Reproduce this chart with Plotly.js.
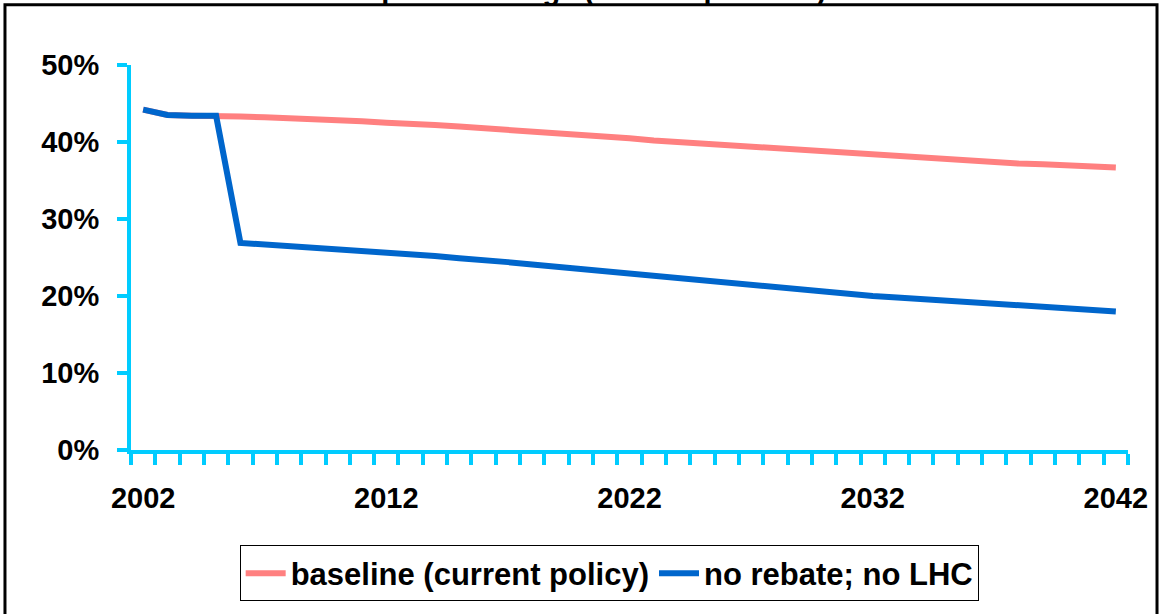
<!DOCTYPE html>
<html>
<head>
<meta charset="utf-8">
<script src="https://cdn.plot.ly/plotly-3.0.1.min.js"></script>
<style>html,body{margin:0;padding:0;background:#fff;}#chart{width:1160px;height:614px;}</style>
</head>
<body>
<div id="chart"></div>
<script>
var titleText = "Private hospital coverage (% of all persons)";
var years = [2002,2003,2004,2005,2006,2007,2008,2009,2010,2011,2012,2013,2014,2015,2016,2017,2018,2019,2020,2021,2022,2023,2024,2025,2026,2027,2028,2029,2030,2031,2032,2033,2034,2035,2036,2037,2038,2039,2040,2041,2042];
var baseline = [44.2,43.5,43.4,43.4,43.3,43.2,43.1,43.0,42.8,42.7,42.5,42.4,42.2,42.0,41.8,41.6,41.4,41.1,40.9,40.7,40.5,40.2,40.0,39.8,39.6,39.3,39.1,38.9,38.7,38.5,38.3,38.1,37.9,37.7,37.5,37.4,37.2,37.1,37.0,36.8,36.7];
var noRebate = [44.2,43.5,43.4,43.4,26.9,26.7,26.5,26.3,26.1,25.9,25.7,25.4,25.2,24.9,24.7,24.4,24.1,23.8,23.5,23.2,22.9,22.6,22.3,22.0,21.7,21.4,21.1,20.8,20.5,20.3,20.0,19.8,19.6,19.4,19.2,19.0,18.8,18.6,18.4,18.2,18.0];
var seriesNames = ["baseline (current policy)", "no rebate; no LHC"];
var yTicks = [0,10,20,30,40,50];
var yTickText = ["0%","10%","20%","30%","40%","50%"];
var xTicks = [2002,2012,2022,2032,2042];

var FONT = "Liberation Sans, Arial, sans-serif";
var AX = "#00CCFF";

var traces = [
  {x: years, y: baseline, name: seriesNames[0], type: "scatter", mode: "lines",
   line: {color: "#FF8080", width: 6, shape: "linear"}},
  {x: years, y: noRebate, name: seriesNames[1], type: "scatter", mode: "lines",
   line: {color: "#0066CC", width: 6, shape: "linear"}}
];

var layout = {
  width: 1160, height: 614,
  margin: {l: 131, r: 32, t: 65, b: 162},
  paper_bgcolor: "#fff", plot_bgcolor: "#fff",
  font: {family: FONT, size: 29, color: "#000", weight: "bold"},
  title: {text: titleText, font: {family: FONT, size: 29, weight: "bold", color: "#000"},
          x: 0.453, xanchor: "center", xref: "container", y: 1, yref: "container", yanchor: "bottom", pad: {t:0,b:0,l:0,r:0}},
  showlegend: true,
  legend: {orientation: "h", x: 0.109, xanchor: "left", y: -0.248, yanchor: "top",
           bordercolor: "#000", borderwidth: 1, bgcolor: "#fff",
           font: {family: FONT, size: 31, weight: "bold", color: "#000"}, itemwidth: 40, tracegroupgap: 0},
  xaxis: {range: [2001.5, 2042.5], tickvals: xTicks, ticktext: xTicks.map(String),
          showgrid: false, zeroline: false, showline: true, linecolor: AX, linewidth: 4,
          ticks: "", ticklabelstandoff: 19,
          minor: {tick0: 2001.5, dtick: 1, ticks: "outside", ticklen: 11, tickwidth: 4, tickcolor: AX, showgrid: false},
          tickfont: {family: FONT, size: 29, weight: "bold"}, fixedrange: true},
  yaxis: {range: [0, 50], tickvals: yTicks, ticktext: yTickText,
          showgrid: false, zeroline: false, showline: true, linecolor: AX, linewidth: 4,
          ticks: "outside", ticklen: 10, tickwidth: 4, tickcolor: AX, ticklabelstandoff: 12,
          tickfont: {family: FONT, size: 29, weight: "bold"}, fixedrange: true},
  shapes: [{type: "rect", xref: "paper", yref: "paper", x0: -0.1264, x1: 1.0291, y0: -0.5, y1: 1.1563,
            line: {color: "#000", width: 3}, fillcolor: "rgba(0,0,0,0)", layer: "below"}]
};

Plotly.newPlot("chart", traces, layout, {displayModeBar: false, staticPlot: true});
</script>
</body>
</html>
